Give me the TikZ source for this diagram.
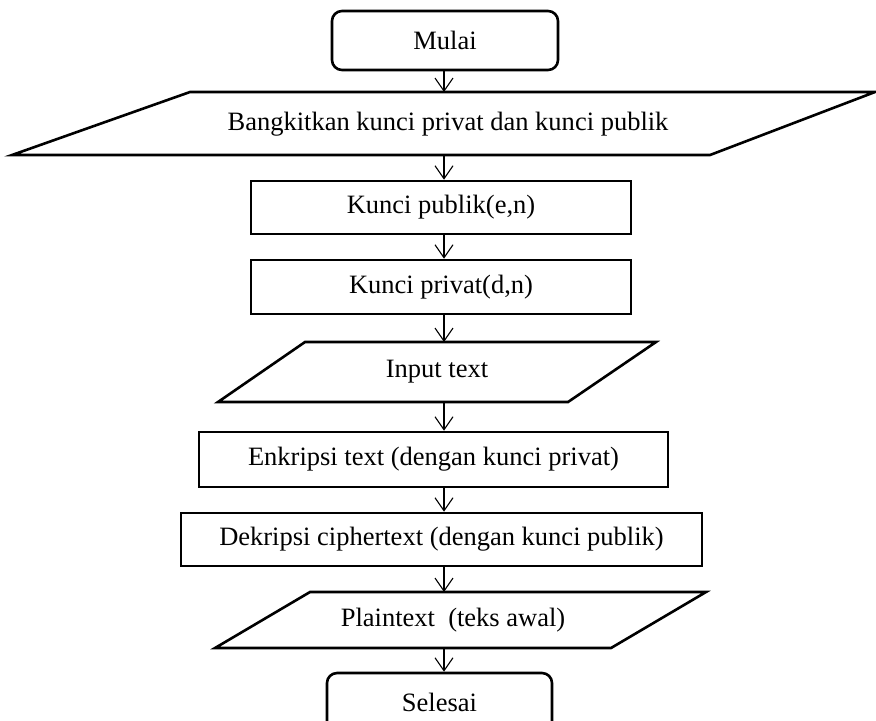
\documentclass[tikz,border=0pt]{standalone}
\usepackage{fontspec}
\setmainfont{Liberation Serif}
\usetikzlibrary{arrows.meta}
\begin{document}
\begin{tikzpicture}[x=0.5pt,y=-0.5pt,
  font=\fontsize{13.25pt}{16pt}\selectfont,
  shp/.style={draw,line width=1.3pt},
  rbox/.style={shp,rectangle,inner sep=0pt},
  term/.style={rbox,rounded corners=5pt,minimum width=113pt,minimum height=29.5pt},
  arr/.style={line width=0.55pt,-{Straight Barb[length=6.5pt,width=9pt,line width=0.55pt]}},
  lbl/.style={inner sep=0pt}]
\useasboundingbox (0,0) rectangle (876,720);
\clip (0,0) rectangle (876,720);
\coordinate (ax) at (444,0);
% terminator start
\node[term] (mulai) at (445,40.5) {Mulai};
% parallelogram 1
\draw[shp] (190,92) -- (875,92) -- (710,155) -- (12,155) -- cycle;
\node[lbl] (bang) at (448,124) {Bangkitkan kunci privat dan kunci publik};
\coordinate (btop) at (444,92);
\coordinate (bbot) at (444,155);
% boxes
\node[rbox,minimum width=190pt,minimum height=26.5pt] (pub) at (441,207.5) {Kunci publik(e,n)};
\node[rbox,minimum width=190pt,minimum height=27pt] (priv) at (441,287) {Kunci privat(d,n)};
% parallelogram 2
\draw[shp] (305,342) -- (656,342) -- (568,402) -- (218,402) -- cycle;
\node[lbl] (inp) at (437,372) {Input text};
\coordinate (itop) at (444,342);
\coordinate (ibot) at (444,402);
\node[rbox,minimum width=234.5pt,minimum height=27.5pt] (enk) at (433.5,459.5) {Enkripsi text (dengan kunci privat)};
\node[rbox,minimum width=260.5pt,minimum height=26.5pt] (dek) at (441.5,539.5) {Dekripsi ciphertext (dengan kunci publik)};
% parallelogram 3
\draw[shp] (310,592) -- (706,592) -- (611,648) -- (215,648) -- cycle;
\node[lbl] (plain) at (453,620) {Plaintext\ \ (teks awal)};
\coordinate (ptop) at (444,592);
\coordinate (pbot) at (444,648);
% terminator end
\node[term,minimum width=112.5pt] (sel) at (439.5,702.5) {Selesai};
% connectors
\draw[arr] (ax |- mulai.south) -- (btop);
\draw[arr] (bbot) -- (ax |- pub.north);
\draw[arr] (ax |- pub.south) -- (ax |- priv.north);
\draw[arr] (ax |- priv.south) -- (itop);
\draw[arr] (ibot) -- (ax |- enk.north);
\draw[arr] (ax |- enk.south) -- (ax |- dek.north);
\draw[arr] (ax |- dek.south) -- (ptop);
\draw[arr] (pbot) -- (ax |- sel.north);
\end{tikzpicture}
\end{document}
